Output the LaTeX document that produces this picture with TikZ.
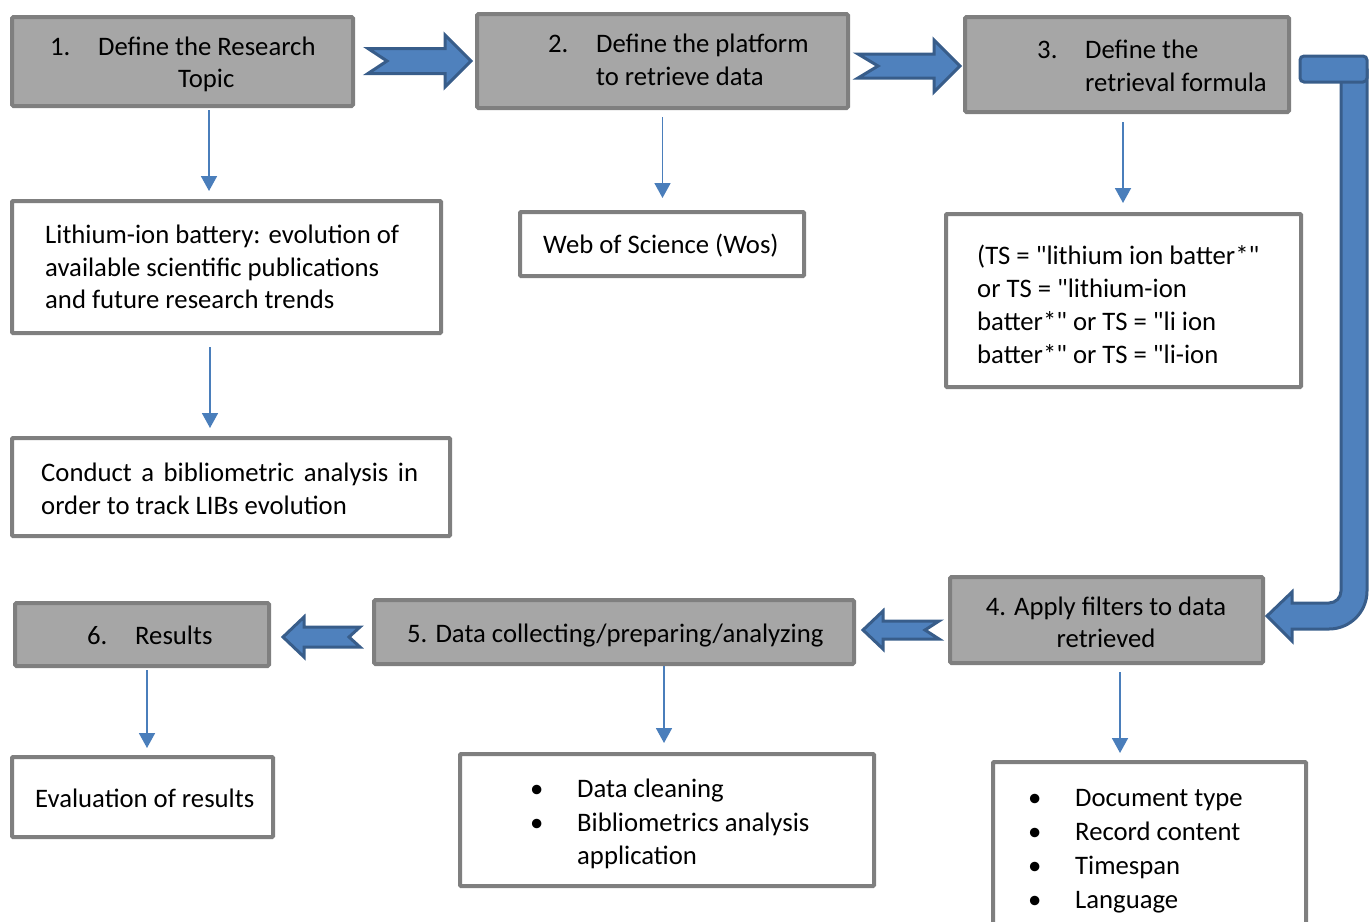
\documentclass[tikz,border=0pt]{standalone}
\usepackage{fontspec}
\setmainfont{Carlito}[Ligatures=TeXOff]
\usetikzlibrary{arrows.meta}
\definecolor{gfill}{HTML}{A6A6A6}
\definecolor{gline}{HTML}{7F7F7F}
\definecolor{bfill}{HTML}{4F81BD}
\definecolor{bline}{HTML}{385D8A}
\definecolor{tline}{HTML}{4A7EBB}
% tail, notch depth, head base, tip, y centre, shaft half, head half
\newcommand\BlockArr[7]{%
  \draw[barr] (#1,#5-#6) -- (#3,#5-#6) -- (#3,#5-#7) -- (#4,#5) -- (#3,#5+#7)
    -- (#3,#5+#6) -- (#1,#5+#6) -- (#1+#2,#5) -- cycle;}
\newcommand\bul{\makebox[47pt][l]{\textbullet}}
\begin{document}
\begin{tikzpicture}[x=1pt,y=-1pt,
  gbox/.style={draw=gline,fill=gfill,line width=4pt,rounded corners=1.5pt,inner sep=0pt},
  wbox/.style={draw=gline,fill=white,line width=4pt,rounded corners=1pt,inner sep=0pt},
  txt/.style={anchor=base west,inner sep=0pt,font=\fontsize{26.7}{33}\selectfont},
  tarr/.style={draw=tline,line width=1.8pt,-{Triangle[width=16pt,length=15pt]}},
  barr/.style={draw=bline,fill=bfill,line width=3pt,line join=miter}]
\useasboundingbox (0,0) rectangle (1372,921);
\clip (0,0) rectangle (1372,921);

% grey step boxes
\node[gbox,minimum width=341pt,minimum height=89pt] (b1) at (182.5,61.5) {};
\node[gbox,minimum width=371pt,minimum height=94pt] (b2) at (662.5,61) {};
\node[gbox,minimum width=324pt,minimum height=95pt] (b3) at (1127,64.5) {};
\node[gbox,minimum width=313pt,minimum height=86pt] (b4) at (1106.5,620) {};
\node[gbox,minimum width=480pt,minimum height=64pt] (b5) at (614,632) {};
\node[gbox,minimum width=254pt,minimum height=63pt] (b6) at (142,634.5) {};

% white boxes
\node[wbox,minimum width=429pt,minimum height=132pt] (w1) at (226.5,267) {};
\node[wbox,minimum width=438pt,minimum height=98pt] (w2) at (231,487) {};
\node[wbox,minimum width=284pt,minimum height=64pt] (wwos) at (662,244) {};
\node[wbox,minimum width=355pt,minimum height=173pt] (wts) at (1123.5,300.5) {};
\node[wbox,minimum width=261pt,minimum height=80pt] (w6) at (142.5,797) {};
\node[wbox,minimum width=414pt,minimum height=132pt] (w5) at (667,820) {};
\node[wbox,minimum width=313pt,minimum height=176pt] (w4) at (1149.5,850) {};

% texts
\node[txt] (t1a) at (50,55) {\makebox[48pt][l]{1.}Define the Research};
\node[txt] (t1b) at (178,87) {Topic};
\node[txt] (t2a) at (548,52) {\makebox[48pt][l]{2.}Define the platform};
\node[txt] (t2b) at (596,85) {to retrieve data};
\node[txt] (t3a) at (1037,58) {\makebox[48pt][l]{3.}Define the};
\node[txt] (t3b) at (1085,91) {retrieval formula};
\node[txt,anchor=base] (t4a) at (1106,615) {4. Apply filters to data};
\node[txt,anchor=base] (t4b) at (1106,647) {retrieved};
\node[txt] (t5) at (407,642) {5. Data collecting/preparing/analyzing};
\node[txt] (t6) at (87,644) {\makebox[48pt][l]{6.}Results};

\node[txt] (w1a) at (45,243) {Lithium-ion battery: evolution of};
\node[txt] (w1b) at (45,276) {available scientific publications};
\node[txt] (w1c) at (45,308) {and future research trends};
\node[txt] (w2a) at (41,481) {\hbox to 377pt{Conduct\hfill a\hfill bibliometric\hfill analysis\hfill in}};
\node[txt] (w2b) at (41,514) {order to track LIBs evolution};
\node[txt] (wosa) at (543,253) {Web of Science (Wos)};
\node[txt] (tsa) at (977,264) {(TS = "lithium ion batter*"};
\node[txt] (tsb) at (977,297) {or TS = "lithium-ion};
\node[txt] (tsc) at (977,330) {batter*" or TS = "li ion};
\node[txt] (tsd) at (977,363) {batter*" or TS = "li-ion};
\node[txt] (w6a) at (35,807) {Evaluation of results};
\node[txt] (w5a) at (530,797) {\bul Data cleaning};
\node[txt] (w5b) at (530,831) {\bul Bibliometrics analysis};
\node[txt] (w5c) at (577,864) {application};
\node[txt] (w4a) at (1028,806) {\bul Document type};
\node[txt] (w4b) at (1028,840) {\bul Record content};
\node[txt] (w4c) at (1028,874) {\bul Timespan};
\node[txt] (w4d) at (1028,908) {\bul Language};

% thin connectors
\draw[tarr,shorten <=2pt,shorten >=8pt] ([xshift=26.5pt]b1.south) -- ([xshift=26.5pt]b1.south |- w1.north);
\draw[tarr,shorten <=12pt,shorten >=8pt] ([xshift=-16.5pt]w1.south) -- ([xshift=-16.5pt]w1.south |- w2.north);
\draw[tarr,shorten <=7pt,shorten >=12pt] (b2.south) -- (b2.south |- wwos.north);
\draw[tarr,shorten <=8pt,shorten >=9pt] ([xshift=-4pt]b3.south) -- ([xshift=-4pt]b3.south |- wts.north);
\draw[tarr,shorten <=7pt,shorten >=7pt] ([xshift=13.5pt]b4.south) -- ([xshift=13.5pt]b4.south |- w4.north);
\draw[tarr,shorten >=9pt] ([xshift=50pt]b5.south) -- ([xshift=50pt]b5.south |- w5.north);
\draw[tarr,shorten <=2pt,shorten >=7pt] ([xshift=5pt]b6.south) -- ([xshift=5pt]b6.south |- w6.north);

% block arrows
\BlockArr{368}{19}{445}{471}{61}{12.5}{26}
\BlockArr{858}{20}{934}{960}{66}{12}{26}
\BlockArr{939}{-14}{883}{863}{630}{9}{19}
\BlockArr{360}{-11}{304}{283}{637}{10}{20}

% bent arrow from step 3 down to step 4
\draw[barr] (1341,70) -- (1341,591) arc[start angle=0,end angle=-90,radius=12pt]
  -- (1292,603) -- (1292,592) -- (1267,616) -- (1292,641) -- (1292,629) -- (1329,629)
  arc[start angle=-90,end angle=0,radius=38pt] -- (1367,70) -- cycle;
\draw[barr,rounded corners=4pt] (1300,56) rectangle (1367,82);
\end{tikzpicture}
\end{document}
